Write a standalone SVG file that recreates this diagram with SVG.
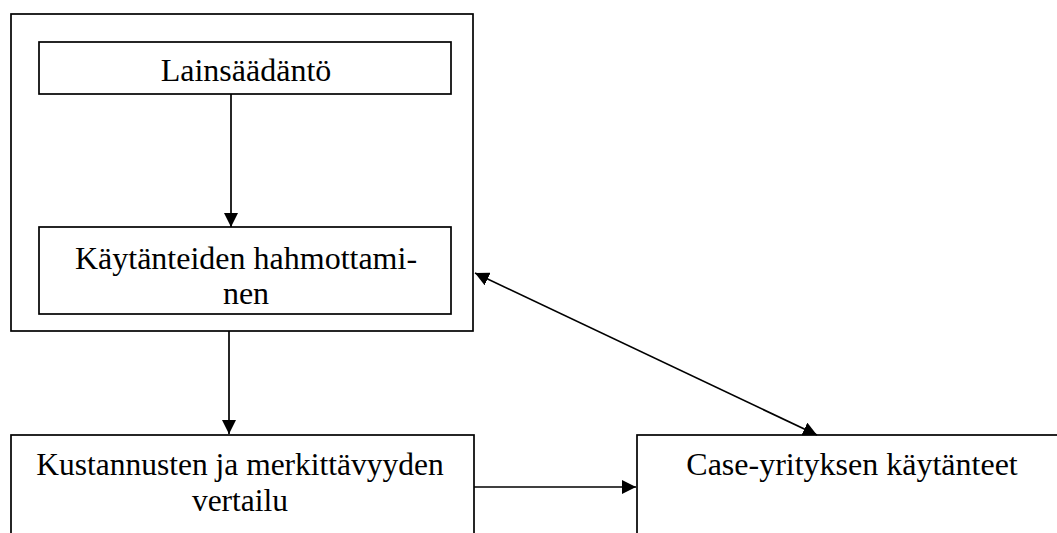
<svg xmlns="http://www.w3.org/2000/svg" width="1057" height="533" viewBox="0 0 1057 533">
<style>
.box{fill:#fff;stroke:#000;stroke-width:1.7}
.t{font-family:"Liberation Serif","Times New Roman",serif;font-size:32px;fill:#000;text-anchor:middle}
.s{font-size:31.5px}
.c{fill:none;stroke:#000;stroke-width:1.7}
</style>
<defs>
<marker id="ahb" markerWidth="14" markerHeight="14" refX="14" refY="7" orient="auto-start-reverse" markerUnits="userSpaceOnUse">
<path d="M0,0 L14,7 L0,14 z" fill="#000"/>
</marker>
</defs>
<g id="outer"><rect class="box" x="11" y="14" width="462" height="317"/></g>
<g id="lainsaadanto"><rect class="box" x="39" y="42" width="412" height="52"/><text class="t" x="246" y="81">Lainsäädäntö</text></g>
<g id="kaytanteiden"><rect class="box" x="39" y="227" width="412" height="87"/><text class="t" x="246" y="269">Käytänteiden hahmottami-</text><text class="t" x="246" y="304">nen</text></g>
<g id="kustannusten"><rect class="box" x="11" y="435" width="463" height="110"/><text class="t s" x="240" y="475">Kustannusten ja merkittävyyden</text><text class="t s" x="240" y="511">vertailu</text></g>
<g id="case"><rect class="box" x="637" y="435" width="440" height="110"/><text class="t" x="852" y="475">Case-yrityksen käytänteet</text></g>
<g id="connectors">
<line class="c" x1="231" y1="94" x2="231" y2="227" marker-end="url(#ahb)"/>
<line class="c" x1="229" y1="331" x2="229" y2="434" marker-end="url(#ahb)"/>
<line class="c" x1="474" y1="487" x2="636" y2="487" marker-end="url(#ahb)"/>
<line class="c" x1="475" y1="273" x2="817" y2="435" marker-start="url(#ahb)" marker-end="url(#ahb)"/>
</g>
</svg>
